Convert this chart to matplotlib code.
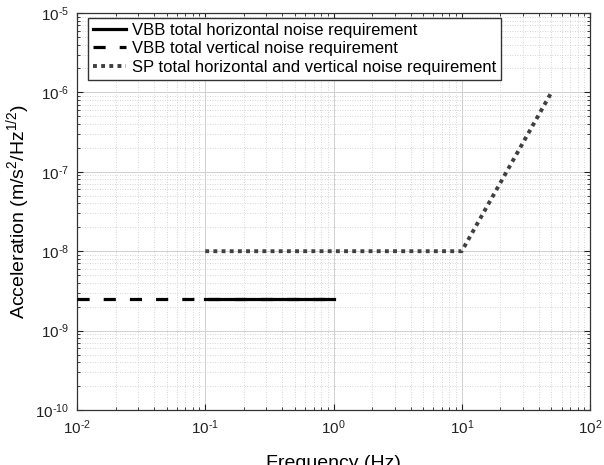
import matplotlib
matplotlib.use("Agg")
import matplotlib.pyplot as plt
from matplotlib.ticker import LogLocator, NullFormatter, FuncFormatter
import numpy as np

plt.rcParams['font.family'] = ['Liberation Sans', 'DejaVu Sans']
plt.rcParams['mathtext.fontset'] = 'custom'
plt.rcParams['mathtext.rm'] = 'Liberation Sans'
plt.rcParams['mathtext.it'] = 'Liberation Sans'
plt.rcParams['mathtext.default'] = 'regular'

# Data
vbb_h_freq = [0.1, 1.0]
vbb_h_acc = [2.5e-9, 2.5e-9]
vbb_v_freq = [0.01, 1.0]
vbb_v_acc = [2.5e-9, 2.5e-9]
sp_freq = [0.1, 10.0, 50.0]
sp_acc = [1e-8, 1e-8, 1e-6]
labels = ["VBB total horizontal noise requirement",
          "VBB total vertical noise requirement",
          "SP total horizontal and vertical noise requirement"]

fig = plt.figure(figsize=(6.04, 4.65), dpi=100)
ax = fig.add_axes([77/604, 1-410/465, (590-77)/604, (410-13)/465])

ax.plot(vbb_h_freq, vbb_h_acc, color='black', lw=2.3, ls='-', label=labels[0], zorder=4)
ax.plot(vbb_v_freq, vbb_v_acc, color='black', lw=2.3, ls=(0, (3.8, 4.4)), label=labels[1], zorder=3)
ax.plot(sp_freq, sp_acc, color='#404040', lw=2.8, ls=(0, (1, 1.1)), label=labels[2], zorder=3)

ax.set_xscale('log')
ax.set_yscale('log')
ax.set_xlim(1e-2, 1e2)
ax.set_ylim(1e-10, 1e-5)

def fmt(v, pos):
    e = int(round(np.log10(v)))
    s = str(e).replace('-', '\u2010')
    return '10$^{%s}$' % s

ax.xaxis.set_major_locator(LogLocator(base=10, numticks=10))
ax.yaxis.set_major_locator(LogLocator(base=10, numticks=10))
ax.xaxis.set_major_formatter(FuncFormatter(fmt))
ax.yaxis.set_major_formatter(FuncFormatter(fmt))
ax.xaxis.set_minor_locator(LogLocator(base=10, subs=range(2, 10), numticks=20))
ax.yaxis.set_minor_locator(LogLocator(base=10, subs=range(2, 10), numticks=20))
ax.xaxis.set_minor_formatter(NullFormatter())
ax.yaxis.set_minor_formatter(NullFormatter())

ax.grid(True, which='major', color='#d0d0d0', lw=0.7, ls='-')
ax.grid(True, which='minor', color='#c8c8c8', lw=0.6, ls=(0, (1, 2)))
ax.set_axisbelow(True)

ax.tick_params(which='both', direction='in', top=True, right=True, labelsize=11, colors='#222222')
ax.tick_params(which='major', length=4, width=0.8, pad=6)
ax.tick_params(which='minor', length=2, width=0.6)
for s in ax.spines.values():
    s.set_color('#333333')
    s.set_linewidth(0.9)

ax.set_xlabel('Frequency (Hz)', fontsize=14, labelpad=13)
ax.set_ylabel('Acceleration (m/s$^2$/Hz$^{1/2}$)', fontsize=14, labelpad=2)

leg = ax.legend(loc='upper left', bbox_to_anchor=(11/513, 1 - 5/397), fontsize=12, frameon=True,
                fancybox=False, edgecolor='#333333', framealpha=1, borderpad=0.3,
                labelspacing=0.2, handlelength=2.0, handletextpad=0.35, borderaxespad=0.0)
leg.get_frame().set_linewidth(1.0)

fig.savefig('out.png', dpi=100)
